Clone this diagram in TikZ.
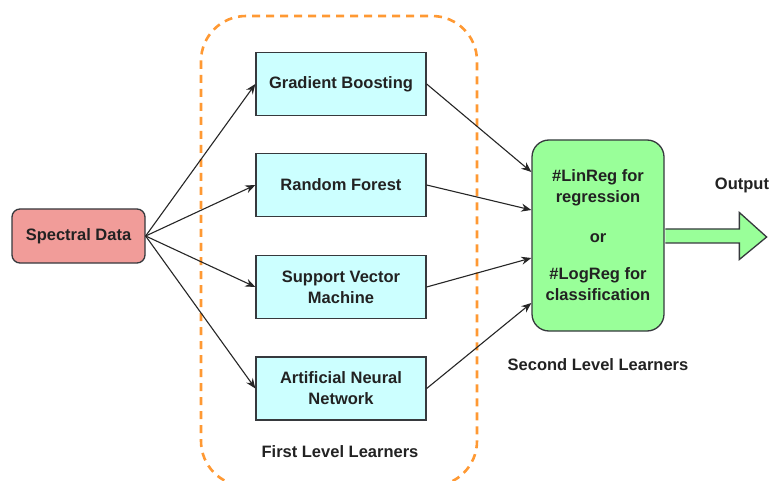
\documentclass[tikz,border=0pt]{standalone}
\usepackage{fontspec}
\setmainfont{Liberation Sans}
\usetikzlibrary{arrows.meta,calc}
\definecolor{sdfill}{HTML}{F19C99}
\definecolor{boxfill}{HTML}{CCFFFF}
\definecolor{grfill}{HTML}{99FF99}
\definecolor{edge}{HTML}{36393D}
\definecolor{txt}{HTML}{222222}
\definecolor{orng}{HTML}{FF9933}
\begin{document}
\begin{tikzpicture}[x=1pt,y=-1pt,
  lbl/.style={font=\fontsize{16.5}{21}\selectfont\bfseries, text=txt},
  learner/.style={lbl, draw=edge, line width=1.3pt, fill=boxfill, minimum width=170pt, minimum height=63pt, align=center, inner sep=0pt},
  conn/.style={line width=1.1pt, draw=black!85, -{Stealth[length=10pt,width=8pt]}}]
\path[use as bounding box, clip] (0,0) rectangle (771,481);
\fill[white] (0,0) rectangle (771,481);
% container
\draw[orng, line width=2.6pt, dash pattern=on 8pt off 6pt, rounded corners=45pt] (201,16) rectangle (477,486);
% nodes
\node[lbl, draw=edge, line width=1.3pt, fill=sdfill, rounded corners=8pt, minimum width=133pt, minimum height=54pt, inner sep=0pt] (sd) at (78.5,236) {Spectral Data};
\node[learner] (gb) at (341,84) {Gradient Boosting};
\node[learner] (rf) at (341,185) {Random Forest};
\node[learner] (svm) at (341,287) {Support Vector\\Machine};
\node[learner] (ann) at (341,388.5) {Artificial Neural\\Network};
\node[lbl, draw=edge, line width=1.3pt, fill=grfill, rounded corners=17pt, minimum width=132pt, minimum height=191pt, inner sep=0pt, align=center] (g) at (598,235.5) {\#LinReg for\\regression\\[19pt]or\\[16pt]\#LogReg for\\classification};
% labels
\node[lbl] (fl) at (340,452) {First Level Learners};
\node[lbl] (sl) at (598,365) {Second Level Learners};
\node[lbl] (out) at (742,185) {Output};
% connectors
\foreach \n in {gb,rf,svm,ann} \draw[conn] (sd.east) -- (\n.west);
\coordinate (g1) at ($(g.west)+(0,-63.5)$);
\coordinate (g2) at ($(g.west)+(0,-25.5)$);
\coordinate (g3) at ($(g.west)+(0,22.5)$);
\coordinate (g4) at ($(g.west)+(0,67.5)$);
\draw[conn] (gb.east) -- (g1);
\draw[conn] (rf.east) -- (g2);
\draw[conn] (svm.east) -- (g3);
\draw[conn] (ann.east) -- (g4);
% output arrow
\draw[edge, line width=1.3pt, fill=grfill, line join=miter]
  ($(g.east)+(0.7,-6.5)$) -- ++(74,0) -- ++(0,-16.5) -- ($(g.east)+(102,1.5)$) -- ($(g.east)+(74.7,24)$) -- ++(0,-16.5) -- ($(g.east)+(0.7,7.5)$);
\end{tikzpicture}
\end{document}
